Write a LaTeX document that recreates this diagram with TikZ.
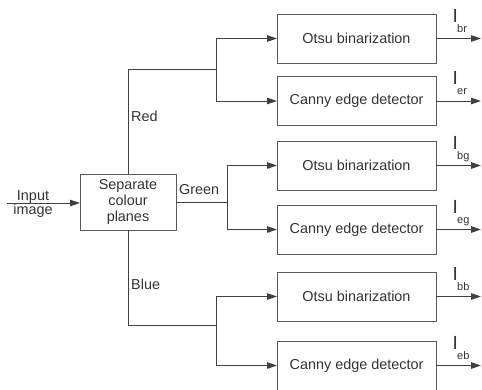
\documentclass[tikz,border=0pt]{standalone}
\usepackage{fontspec}
\setmainfont{Liberation Sans}
\usetikzlibrary{arrows.meta}
\definecolor{linec}{HTML}{404040}
\definecolor{boxc}{HTML}{5A5A5A}
\definecolor{textc}{HTML}{333333}
\begin{document}
\begin{tikzpicture}[x=1pt,y=-1pt,
  every node/.style={text=textc,font=\fontsize{14.4}{16}\selectfont},
  procbox/.style={draw=boxc,line width=0.9pt,inner sep=0pt,outer sep=0pt,
    minimum width=159pt,minimum height=49pt},
  link/.style={draw=linec,line width=0.9pt},
  arr/.style={link,-{Triangle[length=10pt,width=6.5pt]}},
  lbl/.style={anchor=base west,inner sep=0pt},
  outI/.style={anchor=base west,inner sep=0pt,font=\fontsize{19}{22}\selectfont},
  outsub/.style={anchor=base west,inner sep=0pt,font=\fontsize{11}{13}\selectfont}]
\useasboundingbox (0,0) rectangle (482,390);

% splitter
\node[draw=boxc,line width=0.9pt,inner sep=0pt,outer sep=0pt,
  minimum width=96pt,minimum height=56pt,align=center] (sep) at (128,202)
  {Separate\\colour\\planes};

% input
\coordinate (in) at (7,203);
\draw[arr] (in) -- (sep.west |- in);
\node[anchor=base,inner sep=0pt] (inp1) at (33,200.5) {Input};
\node[anchor=base,inner sep=0pt] (inp2) at (33,215) {image};

% processing boxes
\node[procbox] (ob1) at (356.5,38.5) {Otsu binarization};
\node[procbox] (cb1) at (356.5,101) {Canny edge detector};
\node[procbox] (ob2) at (356.5,165.5) {Otsu binarization};
\node[procbox] (cb2) at (356.5,229.5) {Canny edge detector};
\node[procbox] (ob3) at (356.5,296.5) {Otsu binarization};
\node[procbox] (cb3) at (356.5,365.5) {Canny edge detector};

% red branch
\coordinate (rturn) at (128,69);
\coordinate (rj) at (216,69);
\draw[link] (sep.north) -- (rturn) -- (rj);
\draw[arr] (rj) |- (ob1.west);
\draw[arr] (rj) |- (cb1.west);
\node[lbl] (red) at (131,122) {Red};

% green branch
\coordinate (gj) at (227,202);
\draw[link] (sep.east) -- (gj);
\draw[arr] (gj) |- (ob2.west);
\draw[arr] (gj) |- (cb2.west);
\node[lbl] (green) at (179,195) {Green};

% blue branch
\coordinate (bturn) at (128,325);
\coordinate (bj) at (216,325);
\draw[link] (sep.south) -- (bturn) -- (bj);
\draw[arr] (bj) |- (ob3.west);
\draw[arr] (bj) |- (cb3.west);
\node[lbl] (blue) at (131,290) {Blue};

% outputs
\foreach \b/\s in {ob1/br,cb1/er,ob2/bg,cb2/eg,ob3/bb,cb3/eb}{
  \coordinate (\b-out) at (481,0 |- \b.east);
  \draw[arr] (\b.east) -- (\b-out);
  \node[outI] (\b-I) at ([shift={(16.5,-16)}]\b.east) {I};
  \node[outsub] (\b-s) at ([shift={(21,-6)}]\b.east) {\s};
}
\end{tikzpicture}
\end{document}
